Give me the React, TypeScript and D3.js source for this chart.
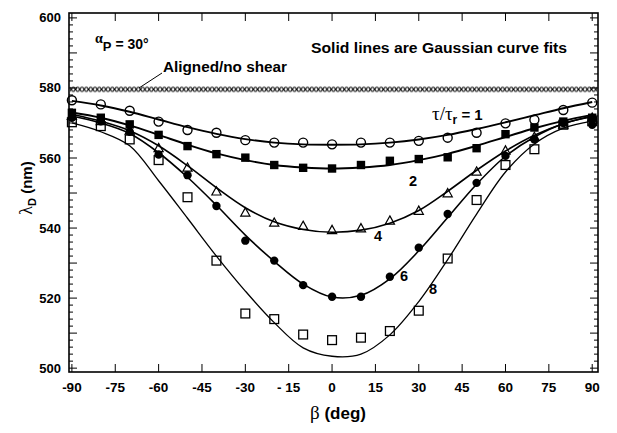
import * as d3 from "d3";
import { useEffect, useRef } from "react";

// beta (deg) where the points were measured
const beta = [-90, -80, -70, -60, -50, -40, -30, -20, -10, 0, 10, 20, 30, 40, 50, 60, 70, 80, 90];

// measured lambda_D (nm) for each tau/tau_r
const tau1 = [576.5, 575.3, 573.5, 570.4, 568, 567.2, 565.1, 564.4, 564.4, 563.9, 564.4, 564.4, 564.9, 565.8, 567.2, 569.9, 570.9, 573.7, 575.8];
const tau2 = [572.9, 571.5, 569.6, 566.6, 563.4, 561.1, 560.1, 558, 557.2, 557.0, 558, 559.2, 559.7, 560.2, 562.8, 566.8, 568.7, 570.4, 571.5];
const tau4 = [572, 570.5, 567.8, 562.8, 557.2, 550.4, 544.4, 541.5, 540.6, 539.4, 539.9, 542.1, 544.9, 549.9, 556.1, 562.1, 566, 569.5, 571.5];
const tau6 = [571.5, 570.5, 567.5, 561, 555.1, 546.3, 536.4, 530.7, 523.7, 520.4, 520.4, 526.1, 534.4, 544, 552.9, 560.6, 565.3, 570, 569.5];
const tau8 = [570.2, 569.1, 565.3, 559.4, 548.8, 530.7, 515.6, 514, 509.6, 508, 508.7, 510.6, 516.4, 531.3, 548, 558, 562.5, 569.5, 570.5];

// gaussian fit curves at the same beta
const fit1 = [576.3, 575, 573.2, 571, 568.8, 566.9, 565.4, 564.4, 563.9, 563.8, 563.9, 564.4, 565.3, 566.6, 568.3, 570.2, 572.2, 574.2, 576];
const fit2 = [573, 571.5, 569.3, 566.6, 563.8, 561.3, 559.4, 558, 557.3, 557, 557.3, 558, 559.4, 561.2, 563.5, 566, 568.5, 570.6, 572.3];
const fit4 = [572.5, 570.5, 567.8, 563.5, 557.8, 551.5, 545.8, 541.8, 539.6, 538.8, 539.4, 541.4, 545, 550.5, 556.5, 562, 566.5, 569.8, 572];
const fit6 = [572, 570, 567, 561.5, 554.5, 546.5, 538, 530.5, 524, 520.3, 520.8, 525.5, 533.5, 543, 552.5, 560.5, 566, 569.8, 571.8];
const fit8 = [570, 567.5, 563.5, 553.5, 542.8, 532, 522, 513, 505.8, 503.4, 504, 509.5, 519, 531, 544, 556, 564, 568.5, 570.5];

// aligned / no shear level
const alignedLevel = 579.6;

const xTicks = [-90, -75, -60, -45, -30, -15, 0, 15, 30, 45, 60, 75, 90];
const xTickLabels = ["-90", "-75", "-60", "-45", "-30", "- 15", "0", "15", "30", "45", "60", "75", "90"];
const yTicks = [500, 520, 540, 560, 580, 600];

const sans = "'Liberation Sans', Arial, sans-serif";
const serif = "'Liberation Serif', 'Times New Roman', serif";

function App() {
    const ref = useRef<SVGSVGElement>(null);

    useEffect(() => {
        const svg = d3.select(ref.current);
        svg.selectAll("*").remove();

        const x = d3.scaleLinear().domain([-91, 92]).range([69, 598]);
        const y = d3.scaleLinear().domain([498.9, 601.4]).range([372, 13]);
        const [x0, x1] = x.range();
        const [y0, y1] = y.range();

        // aligned x-marks as a repeating pattern
        const step = x(1.5) - x(0);
        const pat = svg.append("defs").append("pattern")
            .attr("id", "xmarks")
            .attr("patternUnits", "userSpaceOnUse")
            .attr("x", x0)
            .attr("y", y(alignedLevel) - 3)
            .attr("width", step)
            .attr("height", 6);
        pat.append("path")
            .attr("d", `M0.3,0.5 L${step - 0.3},5.5 M${step - 0.3},0.5 L0.3,5.5`)
            .attr("stroke", "#000")
            .attr("stroke-width", 1.2);
        svg.append("rect")
            .attr("x", x0 + 1)
            .attr("y", y(alignedLevel) - 3)
            .attr("width", x1 - x0 - 2)
            .attr("height", 6)
            .attr("fill", "url(#xmarks)");

        // frame
        svg.append("rect")
            .attr("x", x0).attr("y", y1)
            .attr("width", x1 - x0).attr("height", y0 - y1)
            .attr("fill", "none").attr("stroke", "#000").attr("stroke-width", 1.6);

        // y ticks, inward on both sides
        const yt = svg.append("g").attr("stroke", "#000").attr("stroke-width", 1);
        d3.range(500, 601, 2).forEach((v) => {
            const len = v % 10 === 0 ? 8 : 4;
            yt.append("line").attr("x1", x0).attr("x2", x0 + len).attr("y1", y(v)).attr("y2", y(v));
            yt.append("line").attr("x1", x1).attr("x2", x1 - len).attr("y1", y(v)).attr("y2", y(v));
        });

        // x ticks, inward top and bottom
        xTicks.forEach((v) => {
            yt.append("line").attr("x1", x(v)).attr("x2", x(v)).attr("y1", y0).attr("y2", y0 - 8);
            yt.append("line").attr("x1", x(v)).attr("x2", x(v)).attr("y1", y1).attr("y2", y1 + 8);
        });

        // tick labels
        svg.append("g")
            .selectAll("text")
            .data(xTicks)
            .join("text")
            .attr("x", (d) => x(d))
            .attr("y", 392)
            .attr("text-anchor", "middle")
            .attr("font-family", sans)
            .attr("font-weight", "bold")
            .attr("font-size", 13.5)
            .text((d, i) => xTickLabels[i]);

        svg.append("g")
            .selectAll("text")
            .data(yTicks)
            .join("text")
            .attr("x", 61)
            .attr("y", (d) => y(d) + 4.5)
            .attr("text-anchor", "end")
            .attr("font-family", sans)
            .attr("font-weight", "bold")
            .attr("font-size", 13)
            .text((d) => d);

        // fit curves
        const line = d3.line<number>()
            .x((d, i) => x(beta[i]))
            .y((d) => y(d))
            .curve(d3.curveCatmullRom.alpha(0.5));

        const fits: [number[], number][] = [[fit1, 1.9], [fit2, 1.9], [fit4, 1.6], [fit6, 1.6], [fit8, 1.3]];
        svg.append("g")
            .selectAll("path")
            .data(fits)
            .join("path")
            .attr("fill", "none")
            .attr("stroke", "#000")
            .attr("stroke-width", (d) => d[1])
            .attr("d", (d) => line(d[0]));

        // markers
        const pts = (vals: number[]) => vals.map((v, i) => ({ b: beta[i], v }));

        svg.append("g").selectAll("rect")
            .data(pts(tau8)).join("rect")
            .attr("x", (d) => x(d.b) - 4.4).attr("y", (d) => y(d.v) - 4.4)
            .attr("width", 8.8).attr("height", 8.8)
            .attr("fill", "none").attr("stroke", "#000").attr("stroke-width", 1.3);

        svg.append("g").selectAll("circle")
            .data(pts(tau6)).join("circle")
            .attr("cx", (d) => x(d.b)).attr("cy", (d) => y(d.v))
            .attr("r", 4.2).attr("fill", "#000");

        svg.append("g").selectAll("path")
            .data(pts(tau4)).join("path")
            .attr("d", (d) => {
                const cx = x(d.b), cy = y(d.v);
                return `M${cx},${cy - 4.8} L${cx + 4.6},${cy + 3.4} L${cx - 4.6},${cy + 3.4} Z`;
            })
            .attr("fill", "none").attr("stroke", "#000").attr("stroke-width", 1.2);

        svg.append("g").selectAll("rect")
            .data(pts(tau2)).join("rect")
            .attr("x", (d) => x(d.b) - 4.2).attr("y", (d) => y(d.v) - 4.2)
            .attr("width", 8.4).attr("height", 8.4)
            .attr("fill", "#000");

        svg.append("g").selectAll("circle")
            .data(pts(tau1)).join("circle")
            .attr("cx", (d) => x(d.b)).attr("cy", (d) => y(d.v))
            .attr("r", 4.5).attr("fill", "none").attr("stroke", "#000").attr("stroke-width", 1.4);

        // annotations
        const alpha = svg.append("text")
            .attr("x", 95).attr("y", 49)
            .attr("font-family", sans).attr("font-weight", "bold").attr("font-size", 14);
        alpha.append("tspan").attr("font-family", serif).attr("font-size", 14).attr("dy", -6).text("α");
        alpha.append("tspan").attr("font-size", 13).attr("dy", 8).text("P");
        alpha.append("tspan").attr("dy", -2).text(" = 30°");

        svg.append("text")
            .attr("x", 163).attr("y", 72)
            .attr("font-family", sans).attr("font-weight", "bold").attr("font-size", 14)
            .attr("textLength", 124).attr("lengthAdjust", "spacingAndGlyphs")
            .text("Aligned/no shear");
        svg.append("line")
            .attr("x1", 162).attr("y1", 73).attr("x2", 139).attr("y2", 88)
            .attr("stroke", "#000").attr("stroke-width", 1);

        svg.append("text")
            .attr("x", 311).attr("y", 53)
            .attr("font-family", sans).attr("font-weight", "bold").attr("font-size", 14.5)
            .attr("textLength", 256).attr("lengthAdjust", "spacingAndGlyphs")
            .text("Solid lines are Gaussian curve fits");

        const tau = svg.append("text")
            .attr("x", 432).attr("y", 120)
            .attr("font-family", sans).attr("font-weight", "bold").attr("font-size", 15);
        tau.append("tspan").attr("font-family", serif).attr("font-weight", "normal").attr("font-size", 19).text("τ/τ");
        tau.append("tspan").attr("font-size", 12).attr("dy", 4).text("r");
        tau.append("tspan").attr("dy", -4).text(" = 1");

        const curveLabels: [string, number, number][] = [["2", 413, 186], ["4", 378, 241], ["6", 404, 281], ["8", 433, 294]];
        svg.append("g")
            .selectAll("text")
            .data(curveLabels)
            .join("text")
            .attr("x", (d) => d[1]).attr("y", (d) => d[2])
            .attr("text-anchor", "middle")
            .attr("font-family", sans).attr("font-weight", "bold").attr("font-size", 14.5)
            .text((d) => d[0]);

        // axis titles
        const xt = svg.append("text")
            .attr("x", 338).attr("y", 419)
            .attr("text-anchor", "middle")
            .attr("font-family", sans).attr("font-weight", "bold").attr("font-size", 17);
        xt.append("tspan").attr("font-family", serif).attr("font-weight", "normal").attr("font-size", 19).text("β");
        xt.append("tspan").text(" (deg)");

        const ytl = svg.append("text")
            .attr("transform", "translate(32,188) rotate(-90)")
            .attr("text-anchor", "middle")
            .attr("font-family", sans).attr("font-weight", "bold").attr("font-size", 15);
        ytl.append("tspan").attr("font-family", serif).attr("font-weight", "normal").attr("font-size", 18).text("λ");
        ytl.append("tspan").attr("font-size", 11).attr("dy", 4).text("D");
        ytl.append("tspan").attr("dy", -4).text(" (nm)");
    }, []);

    return (
        <svg
            ref={ref}
            width={617}
            height={433}
            style={{ position: "absolute", left: 0, top: 0, background: "#fff" }}
        />
    );
}

export default App;
